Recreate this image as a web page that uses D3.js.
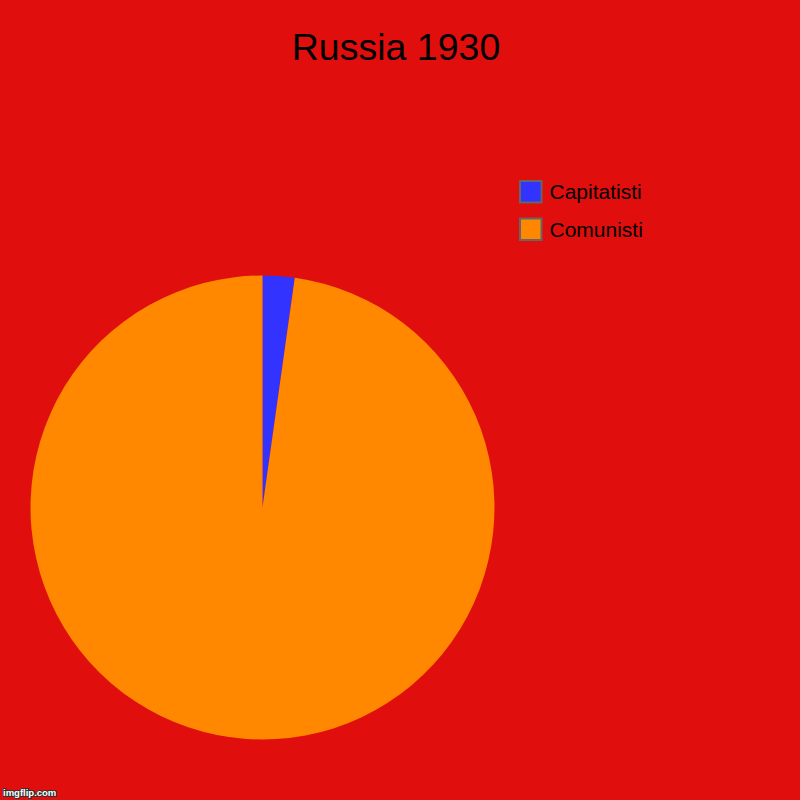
<!DOCTYPE html>
<html lang="en">
<head>
    <meta charset="UTF-8">
    <title>Russia 1930</title>
    <script src="https://cdn.jsdelivr.net/npm/d3@7"></script>
    <style>
        body {
            margin: 0;
            background-color: #e10e0e;
        }
        text {
            font-family: "Liberation Sans", Arial, sans-serif;
        }
    </style>
</head>
<body>
    <script>
        const categories = ['Capitatisti', 'Comunisti'];
        const values = [1, 44];
        const colors = ['#3333ff', '#ff8800'];
        const title = 'Russia 1930';

        const w = 800;
        const h = 800;

        const svg = d3.select('body')
                    .append('svg')
                    .attr('width', w)
                    .attr('height', h);

        svg.append('rect')
            .attr('width', w)
            .attr('height', h)
            .attr('fill', '#e10e0e');

        svg.append('text')
            .attr('x', 396)
            .attr('y', 60)
            .attr('text-anchor', 'middle')
            .style('font-size', '37.5px')
            .attr('fill', '#000')
            .text(title);

        const data = categories.map((c, i) => ({ name: c, value: values[i] }));
        const color = d3.scaleOrdinal(categories, colors);

        const pie = d3.pie().value(d => d.value).sort(null);
        const arc = d3.arc().innerRadius(0).outerRadius(232);

        svg.append('g')
            .attr('transform', 'translate(262.5, 507.5)')
            .selectAll('path')
            .data(pie(data))
            .enter()
            .append('path')
            .attr('d', arc)
            .attr('fill', d => color(d.data.name));

        const legend = svg.append('g')
                        .attr('transform', 'translate(520, 181)');

        const row = legend.selectAll('g')
            .data(categories)
            .enter()
            .append('g')
            .attr('transform', (d, i) => `translate(0, ${i * 37.5})`);

        row.append('rect')
            .attr('width', 21.5)
            .attr('height', 21.5)
            .attr('fill', d => color(d))
            .attr('stroke', '#666')
            .attr('stroke-width', 2);

        row.append('text')
            .attr('x', 29.5)
            .attr('y', 18)
            .style('font-size', '21px')
            .attr('fill', '#000')
            .text(d => d);

        // watermark
        svg.append('text')
            .attr('x', 3)
            .attr('y', 796)
            .style('font-size', '9.5px')
            .style('font-weight', 'bold')
            .attr('fill', '#fff')
            .attr('stroke', '#333')
            .attr('stroke-width', 2)
            .attr('paint-order', 'stroke')
            .text('imgflip.com');
    </script>
</body>
</html>
